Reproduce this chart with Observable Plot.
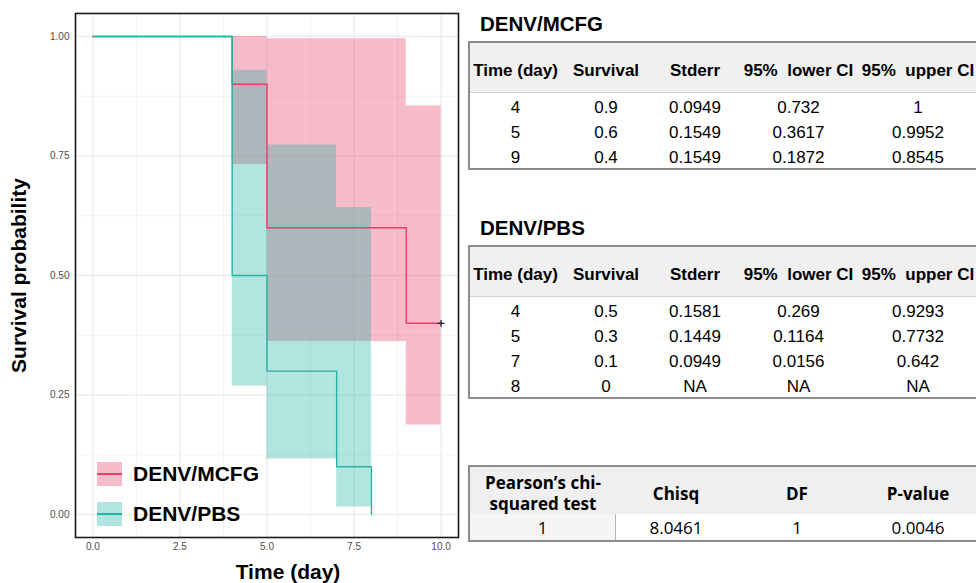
<!DOCTYPE html>
<html>
<head>
<meta charset="utf-8">
<script src="https://cdn.jsdelivr.net/npm/d3@7"></script>
<script src="https://cdn.jsdelivr.net/npm/@observablehq/plot@0.6"></script>
<style>
  html, body { margin: 0; padding: 0; background: #fff; }
  #wrap { position: relative; width: 976px; height: 583px; overflow: hidden;
          font-family: "Liberation Sans", Arial, sans-serif; color: #000; }
  #chart { position: absolute; left: 0; top: 0; }
  .legend { position: absolute; left: 97px; top: 462px; }
  .legend .item { position: absolute; left: 0; height: 24px; }
  .legend .key { position: absolute; left: 0; top: 0; width: 25px; height: 24px; }
  .legend .key i { position: absolute; left: 0; right: 0; top: 11px; height: 1.5px; }
  .legend .lab { position: absolute; left: 36px; top: 0; font-weight: bold; font-size: 21px;
                 line-height: 24px; white-space: nowrap; }
  .title { position: absolute; left: 480px; font-weight: bold; font-size: 20.5px; line-height: 22px; }
  table { position: absolute; left: 468px; border-collapse: separate; border-spacing: 0;
          table-layout: fixed; border: 2px solid #8c8c8c; border-right: none; }
  table td { padding: 0; text-align: center; white-space: pre; overflow: visible; }
  table.km { font-size: 17px; }
  table.km thead td { background: #f0f0f0; font-weight: bold; height: 50px;
                      border-bottom: 1px solid #cfcfcf; padding-top: 7px; box-sizing: border-box; }
  table.km tbody td { height: 25px; line-height: 20px; padding-top: 5px; box-sizing: border-box; }
  table.chi { font-family: "Open Sans", "Noto Sans", sans-serif; font-size: 17px; }
  table.chi thead td { background: #efefef; font-weight: bold; height: 44px; line-height: 21px;
                       padding-top: 5px; box-sizing: border-box; }
  table.chi tbody td { height: 26px; line-height: 24px; padding-top: 2px; box-sizing: border-box; }
  table.chi tbody td.first { background: #f5f5f5; border-right: 1px solid #b4b4b4; }
</style>
</head>
<body>
<div id="wrap">
  <div id="chart"></div>
  <div class="legend" id="legend"></div>
</div>
<script>
// Kaplan–Meier estimates per group (time in days)
const groups = ["DENV/MCFG", "DENV/PBS"];
const groupColors = ["#EC3B65", "#23B5A4"];

const mcfgTime = [4, 5, 9];
const mcfgSurv = [0.9, 0.6, 0.4];
const mcfgStderr = [0.0949, 0.1549, 0.1549];
const mcfgLower = [0.732, 0.3617, 0.1872];
const mcfgUpper = [1, 0.9952, 0.8545];
const mcfgLastFollowUp = 10;   // censored at day 10

const pbsTime = [4, 5, 7, 8];
const pbsSurv = [0.5, 0.3, 0.1, 0];
const pbsStderr = [0.1581, 0.1449, 0.0949, null];
const pbsLower = [0.269, 0.1164, 0.0156, null];
const pbsUpper = [0.9293, 0.7732, 0.642, null];
const pbsLastFollowUp = 8;

// Group comparison
const chiHeaders = ["Pearson\u2019s chi-\nsquared test", "Chisq", "DF", "P-value"];
const chiValues = ["1", "8.0461", "1", "0.0046"];

const tableHeaders = ["Time (day)", "Survival", "Stderr", "95%  lower CI", "95%  upper CI"];

const xTicks = [0, 2.5, 5, 7.5, 10];
const xMinor = [1.25, 3.75, 6.25, 8.75];
const yTicks = [0, 0.25, 0.5, 0.75, 1];
const yMinor = [0.125, 0.375, 0.625, 0.875];

// Step curve: starts at 1 on day 0, then one point per event, held to the last follow-up
function curve(time, surv, end) {
  const pts = [{t: 0, s: 1}];
  time.forEach((t, i) => pts.push({t, s: surv[i]}));
  if (end > time[time.length - 1]) pts.push({t: end, s: surv[surv.length - 1]});
  return pts;
}
// Confidence band: each interval is held until the next event time (or last follow-up)
function band(time, lower, upper, end) {
  const pts = [];
  time.forEach((t, i) => { if (lower[i] != null) pts.push({t, lo: lower[i], hi: upper[i]}); });
  const last = pts[pts.length - 1];
  const next = time.find(t => t > last.t);
  pts.push({t: next ?? end, lo: last.lo, hi: last.hi});
  return pts;
}

const mcfgLine = curve(mcfgTime, mcfgSurv, mcfgLastFollowUp);
const pbsLine = curve(pbsTime, pbsSurv, pbsLastFollowUp);
const mcfgBand = band(mcfgTime, mcfgLower, mcfgUpper, mcfgLastFollowUp);
const pbsBand = band(pbsTime, pbsLower, pbsUpper, pbsLastFollowUp);
const censored = [{t: mcfgLastFollowUp, s: mcfgSurv[mcfgSurv.length - 1]}];

const fmt1 = d3.format(".1f");
const fmt2 = d3.format(".2f");

const chart = Plot.plot({
  width: 466,
  height: 583,
  marginLeft: 75,
  marginRight: 8,
  marginTop: 13,
  marginBottom: 46,
  x: {domain: [-0.5, 10.5]},
  y: {domain: [-0.048, 1.048]},
  style: {fontFamily: "Liberation Sans, Arial, sans-serif", background: "white", overflow: "visible"},
  marks: [
    Plot.gridX(xMinor, {stroke: "#EDEDED", strokeOpacity: 1, strokeWidth: 0.7}),
    Plot.gridY(yMinor, {stroke: "#EDEDED", strokeOpacity: 1, strokeWidth: 0.7}),
    Plot.gridX(xTicks, {stroke: "#EBEBEB", strokeOpacity: 1, strokeWidth: 1.3}),
    Plot.gridY(yTicks, {stroke: "#EBEBEB", strokeOpacity: 1, strokeWidth: 1.3}),
    Plot.areaY(mcfgBand, {x: "t", y1: "lo", y2: "hi", curve: "step-after", fill: groupColors[0], fillOpacity: 0.35}),
    Plot.areaY(pbsBand, {x: "t", y1: "lo", y2: "hi", curve: "step-after", fill: groupColors[1], fillOpacity: 0.35}),
    Plot.line(mcfgLine, {x: "t", y: "s", curve: "step-after", stroke: groupColors[0], strokeWidth: 1.4}),
    Plot.line(pbsLine, {x: "t", y: "s", curve: "step-after", stroke: groupColors[1], strokeWidth: 1.4}),
    Plot.dot(censored, {x: "t", y: "s", symbol: "plus", r: 2.3, stroke: "#1d1d33", strokeWidth: 1.3}),
    Plot.frame({stroke: "#1a1a1a", strokeWidth: 1.6}),
    Plot.axisX(xTicks, {tickSize: 0, tickPadding: 5, tickFormat: fmt1, fontSize: 10, fill: "#4d4d4d", label: null}),
    Plot.axisY(yTicks, {tickSize: 0, tickPadding: 6, tickFormat: fmt2, fontSize: 10, fill: "#4d4d4d", label: null}),
    Plot.text(["Time (day)"], {frameAnchor: "bottom", textAnchor: "middle", lineAnchor: "middle",
      dx: 21, dy: 35, fontSize: 21, fontWeight: "bold", fill: "#000"}),
    Plot.text(["Survival probability"], {frameAnchor: "left", textAnchor: "middle", lineAnchor: "middle",
      dx: -56, rotate: -90, fontSize: 21, fontWeight: "bold", fill: "#000"})
  ]
});
document.getElementById("chart").appendChild(chart);

// Legend inside the panel
const legend = document.getElementById("legend");
groups.forEach((g, i) => {
  const item = document.createElement("div");
  item.className = "item";
  item.style.top = (i * 40) + "px";
  const key = document.createElement("div");
  key.className = "key";
  key.style.background = d3.color(groupColors[i]).copy({opacity: 0.35}).toString();
  const line = document.createElement("i");
  line.style.background = groupColors[i];
  key.appendChild(line);
  const lab = document.createElement("div");
  lab.className = "lab";
  lab.textContent = g;
  item.appendChild(key);
  item.appendChild(lab);
  legend.appendChild(item);
});

// Summary tables
const wrap = document.getElementById("wrap");
function addTitle(text, top) {
  const d = document.createElement("div");
  d.className = "title";
  d.style.top = top + "px";
  d.textContent = text;
  wrap.appendChild(d);
}
function addTable(cls, top, widths, headers, rows, firstClass) {
  const t = document.createElement("table");
  t.className = cls;
  t.style.top = top + "px";
  const cg = document.createElement("colgroup");
  widths.forEach(w => { const c = document.createElement("col"); c.style.width = w + "px"; cg.appendChild(c); });
  t.appendChild(cg);
  const th = document.createElement("thead");
  const hr = document.createElement("tr");
  headers.forEach(h => { const td = document.createElement("td"); td.textContent = h; hr.appendChild(td); });
  th.appendChild(hr);
  t.appendChild(th);
  const tb = document.createElement("tbody");
  rows.forEach(r => {
    const tr = document.createElement("tr");
    r.forEach((v, j) => {
      const td = document.createElement("td");
      td.textContent = v == null ? "NA" : String(v);
      if (firstClass && j === 0) td.className = firstClass;
      tr.appendChild(td);
    });
    tb.appendChild(tr);
  });
  t.appendChild(tb);
  t.style.width = d3.sum(widths) + "px";
  wrap.appendChild(t);
}
const kmWidths = [91, 90, 88, 119, 120];
addTitle(groups[0], 13);
addTable("km", 41, kmWidths, tableHeaders,
  mcfgTime.map((t, i) => [t, mcfgSurv[i], mcfgStderr[i], mcfgLower[i], mcfgUpper[i]]));
addTitle(groups[1], 217);
addTable("km", 245, kmWidths, tableHeaders,
  pbsTime.map((t, i) => [t, pbsSurv[i], pbsStderr[i], pbsLower[i], pbsUpper[i]]));
addTable("chi", 465, [146, 120, 122, 120], chiHeaders, [chiValues], "first");
</script>
</body>
</html>
